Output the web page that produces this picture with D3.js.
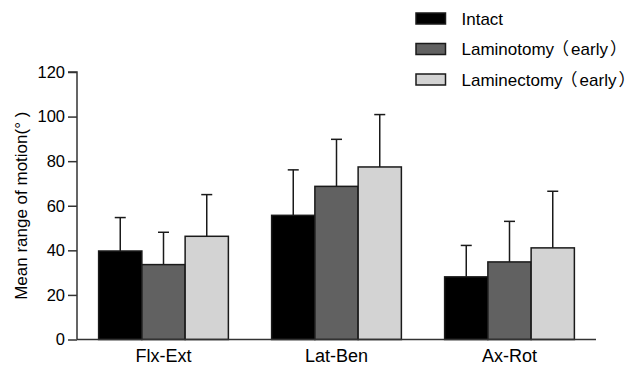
<!DOCTYPE html>
<html>
<head>
<meta charset="utf-8">
<script src="https://cdn.jsdelivr.net/npm/d3@7"></script>
<style>
  html, body { margin: 0; padding: 0; background: #fff; }
  svg text { font-family: "Liberation Sans", Arial, sans-serif; fill: #000; }
  svg tspan.cjk { font-family: "Noto Sans CJK SC", sans-serif; }
</style>
</head>
<body>
<svg id="chart" width="637" height="368"></svg>
<script>
// Range of motion per movement, mean and SD (degrees)
const categories = ["Flx-Ext", "Lat-Ben", "Ax-Rot"];
const seriesNames = ["Intact", "Laminotomy\uFF08early\uFF09", "Laminectomy\uFF08early\uFF09"];
const intactMean = [39.7, 55.7, 28.1];
const laminotomyMean = [33.6, 68.7, 34.8];
const laminectomyMean = [46.3, 77.4, 41.1];
const intactSD = [15.0, 20.4, 14.1];
const laminotomySD = [14.5, 21.1, 18.2];
const laminectomySD = [18.7, 23.5, 25.4];
const yTicks = [0, 20, 40, 60, 80, 100, 120];

const fills = ["#000000", "#616161", "#d3d3d3"];
const means = [intactMean, laminotomyMean, laminectomyMean];
const sds = [intactSD, laminotomySD, laminectomySD];

const svg = d3.select("#chart");
const margin = { left: 77, right: 41, top: 72, bottom: 28.5 };
const W = 637, H = 368;

const x = d3.scaleBand().domain(categories)
  .range([margin.left, W - margin.right])
  .paddingInner(0.25).paddingOuter(0.125);
const xs = d3.scaleBand().domain(d3.range(seriesNames.length))
  .range([0, x.bandwidth()]).padding(0);
const y = d3.scaleLinear().domain([0, 120]).range([H - margin.bottom, margin.top]);

const rows = [];
categories.forEach((c, i) => {
  seriesNames.forEach((s, j) => {
    rows.push({ cat: c, s: j, mean: means[j][i], sd: sds[j][i] });
  });
});

// error bars (upper only), drawn under the bars
const eb = svg.append("g").attr("stroke", "#1a1a1a").attr("stroke-width", 1.5).attr("fill", "none");
rows.forEach(d => {
  const cx = x(d.cat) + xs(d.s) + xs.bandwidth() / 2;
  eb.append("line").attr("x1", cx).attr("x2", cx).attr("y1", y(d.mean)).attr("y2", y(d.mean + d.sd));
  eb.append("line").attr("x1", cx - 5.5).attr("x2", cx + 5.5).attr("y1", y(d.mean + d.sd)).attr("y2", y(d.mean + d.sd));
});

svg.append("g").selectAll("rect").data(rows).join("rect")
  .attr("x", d => x(d.cat) + xs(d.s))
  .attr("y", d => y(d.mean))
  .attr("width", xs.bandwidth())
  .attr("height", d => y(0) - y(d.mean))
  .attr("fill", d => fills[d.s])
  .attr("stroke", "#1a1a1a")
  .attr("stroke-width", 1.5);

// y axis
const yAxis = svg.append("g").attr("transform", `translate(${margin.left},0)`)
  .call(d3.axisLeft(y).tickValues(yTicks).tickSize(9).tickPadding(3));
yAxis.select(".domain").attr("stroke", "#333").attr("stroke-width", 1.5).attr("d", `M-9,${y(120)}H0V${y(0)}`);
yAxis.selectAll(".tick line").attr("stroke", "#333").attr("stroke-width", 1.5);
yAxis.selectAll(".tick text").attr("font-size", 16.5).attr("fill", "#000");

// x axis
const xAxis = svg.append("g").attr("transform", `translate(0,${y(0)})`)
  .call(d3.axisBottom(x).tickSize(0).tickPadding(10));
xAxis.select(".domain").attr("stroke", "#333").attr("stroke-width", 1.5)
  .attr("d", `M${margin.left},0H${W - margin.right}`);
xAxis.selectAll(".tick text").attr("font-size", 18).attr("fill", "#000");

// axis title
svg.append("text")
  .attr("transform", `translate(26.5,${(y(0) + y(120)) / 2}) rotate(-90)`)
  .attr("text-anchor", "middle")
  .attr("font-size", 17)
  .attr("xml:space", "preserve")
  .text("Mean range of motion(\u00B0 )");

// legend; full-width brackets each take a full em box
const fs = 17;
const lg = svg.append("g");
seriesNames.forEach((s, j) => {
  const cy = 18.5 + j * 30.5;
  lg.append("rect").attr("x", 416).attr("y", cy - 5.5).attr("width", 29.5).attr("height", 11)
    .attr("fill", fills[j]).attr("stroke", "#1a1a1a").attr("stroke-width", 1.5);
  const t = lg.append("text").attr("y", cy).attr("dy", "0.36em").attr("font-size", fs);
  let cx = 461.5;
  s.split(/([\uFF08\uFF09])/).filter(p => p.length).forEach(p => {
    const wide = /[\uFF08\uFF09]/.test(p);
    const ts = t.append("tspan").attr("class", wide ? "cjk" : null).text(p);
    const w = ts.node().getComputedTextLength();
    if (wide) {
      // opening bracket sits at the right of its box, closing one at the left
      const gx = p === "\uFF08" ? cx + fs - w - 2 : cx + 2;
      ts.attr("x", gx);
      cx += fs;
    } else {
      ts.attr("x", cx);
      cx += w;
    }
  });
});
</script>
</body>
</html>
